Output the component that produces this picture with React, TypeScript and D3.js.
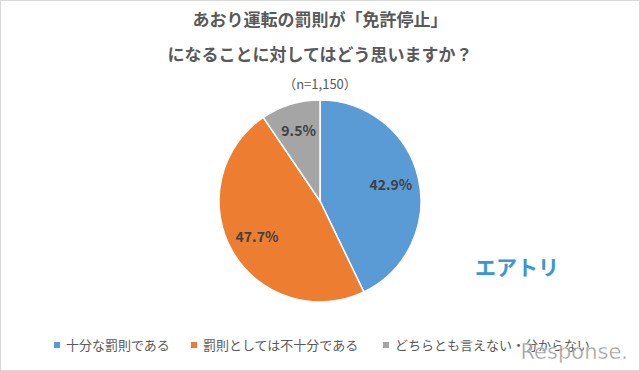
import { useEffect, useRef } from "react"
import * as d3 from "d3"

// answers, in pie order (clockwise from 12 o'clock)
const categories = ["十分な罰則である", "罰則としては不十分である", "どちらとも言えない・分からない"]
const values = [42.9, 47.7, 9.5]
const colors = ["#5B9BD5", "#ED7D31", "#A5A5A5"]
const titleLines = ["あおり運転の罰則が「免許停止」", "になることに対してはどう思いますか？"]
const subtitle = "（n=1,150）"

const FONT = "'Noto Sans CJK JP', 'Noto Sans', sans-serif"

export default function App() {
  const svgRef = useRef<SVGSVGElement>(null)

  useEffect(() => {
    const width = 640
    const height = 371
    const svg = d3.select(svgRef.current)
    svg.selectAll("*").remove()
    svg.attr("viewBox", [0, 0, width, height])

    svg.append("rect")
      .attr("x", 0.5).attr("y", 0.5)
      .attr("width", width - 1).attr("height", height - 1)
      .attr("fill", "#fff")
      .attr("stroke", "#d9d9d9")

    // title
    svg.selectAll("text.title")
      .data(titleLines)
      .join("text")
      .attr("class", "title")
      .attr("x", width / 2)
      .attr("y", (d, i) => 26 + i * 35)
      .attr("text-anchor", "middle")
      .attr("font-family", FONT)
      .attr("font-weight", "bold")
      .attr("font-size", 17)
      .attr("fill", "#595959")
      .text(d => d)

    svg.append("text")
      .attr("x", width / 2)
      .attr("y", 89)
      .attr("text-anchor", "middle")
      .attr("font-family", FONT)
      .attr("font-size", 13)
      .attr("fill", "#595959")
      .text(subtitle)

    // pie
    const cx = 320, cy = 201, r = 101
    const pie = d3.pie<number>().sort(null).value(d => d)
    const arcs = pie(values)
    const arc = d3.arc<d3.PieArcDatum<number>>().innerRadius(0).outerRadius(r)
    const labelArc = d3.arc<d3.PieArcDatum<number>>().innerRadius(r * 0.72).outerRadius(r * 0.72)

    const g = svg.append("g").attr("transform", `translate(${cx},${cy})`)
    g.selectAll("path")
      .data(arcs)
      .join("path")
      .attr("d", arc)
      .attr("fill", (d, i) => colors[i])
      .attr("stroke", "#fff")
      .attr("stroke-width", 1.5)

    g.selectAll("text")
      .data(arcs)
      .join("text")
      .attr("transform", d => `translate(${labelArc.centroid(d)})`)
      .attr("text-anchor", "middle")
      .attr("dy", "0.35em")
      .attr("font-family", FONT)
      .attr("font-weight", "bold")
      .attr("font-size", 14)
      .attr("fill", "#404040")
      .text(d => d.value.toFixed(1) + "%")

    // legend
    const legendX = [57, 194, 386]
    const lg = svg.selectAll("g.legend")
      .data(categories)
      .join("g")
      .attr("class", "legend")
      .attr("transform", (d, i) => `translate(${legendX[i]},345)`)
    lg.append("rect")
      .attr("x", -3).attr("y", -3)
      .attr("width", 6).attr("height", 6)
      .attr("fill", (d, i) => colors[i])
    lg.append("text")
      .attr("x", 9)
      .attr("dy", "0.35em")
      .attr("font-family", FONT)
      .attr("font-size", 13)
      .attr("fill", "#595959")
      .text(d => d)

    // logo
    svg.append("text")
      .attr("x", 517)
      .attr("y", 275)
      .attr("text-anchor", "middle")
      .attr("font-family", FONT)
      .attr("font-weight", "bold")
      .attr("font-size", 21)
      .attr("fill", "#3A97D3")
      .text("エアトリ")

    // watermark (overlaps the last legend item, as in the source image)
    svg.append("text")
      .attr("x", 628)
      .attr("y", 359)
      .attr("text-anchor", "end")
      .attr("font-family", "'DejaVu Sans', sans-serif")
      .attr("font-size", 21)
      .attr("fill", "#8c8c8c")
      .attr("stroke", "#fff")
      .attr("stroke-width", 0.4)
      .attr("opacity", 0.85)
      .text("Response.")
  }, [])

  return (
    <svg
      ref={svgRef}
      width={640}
      height={371}
      style={{ position: "absolute", left: 0, top: 0, display: "block" }}
    />
  )
}
